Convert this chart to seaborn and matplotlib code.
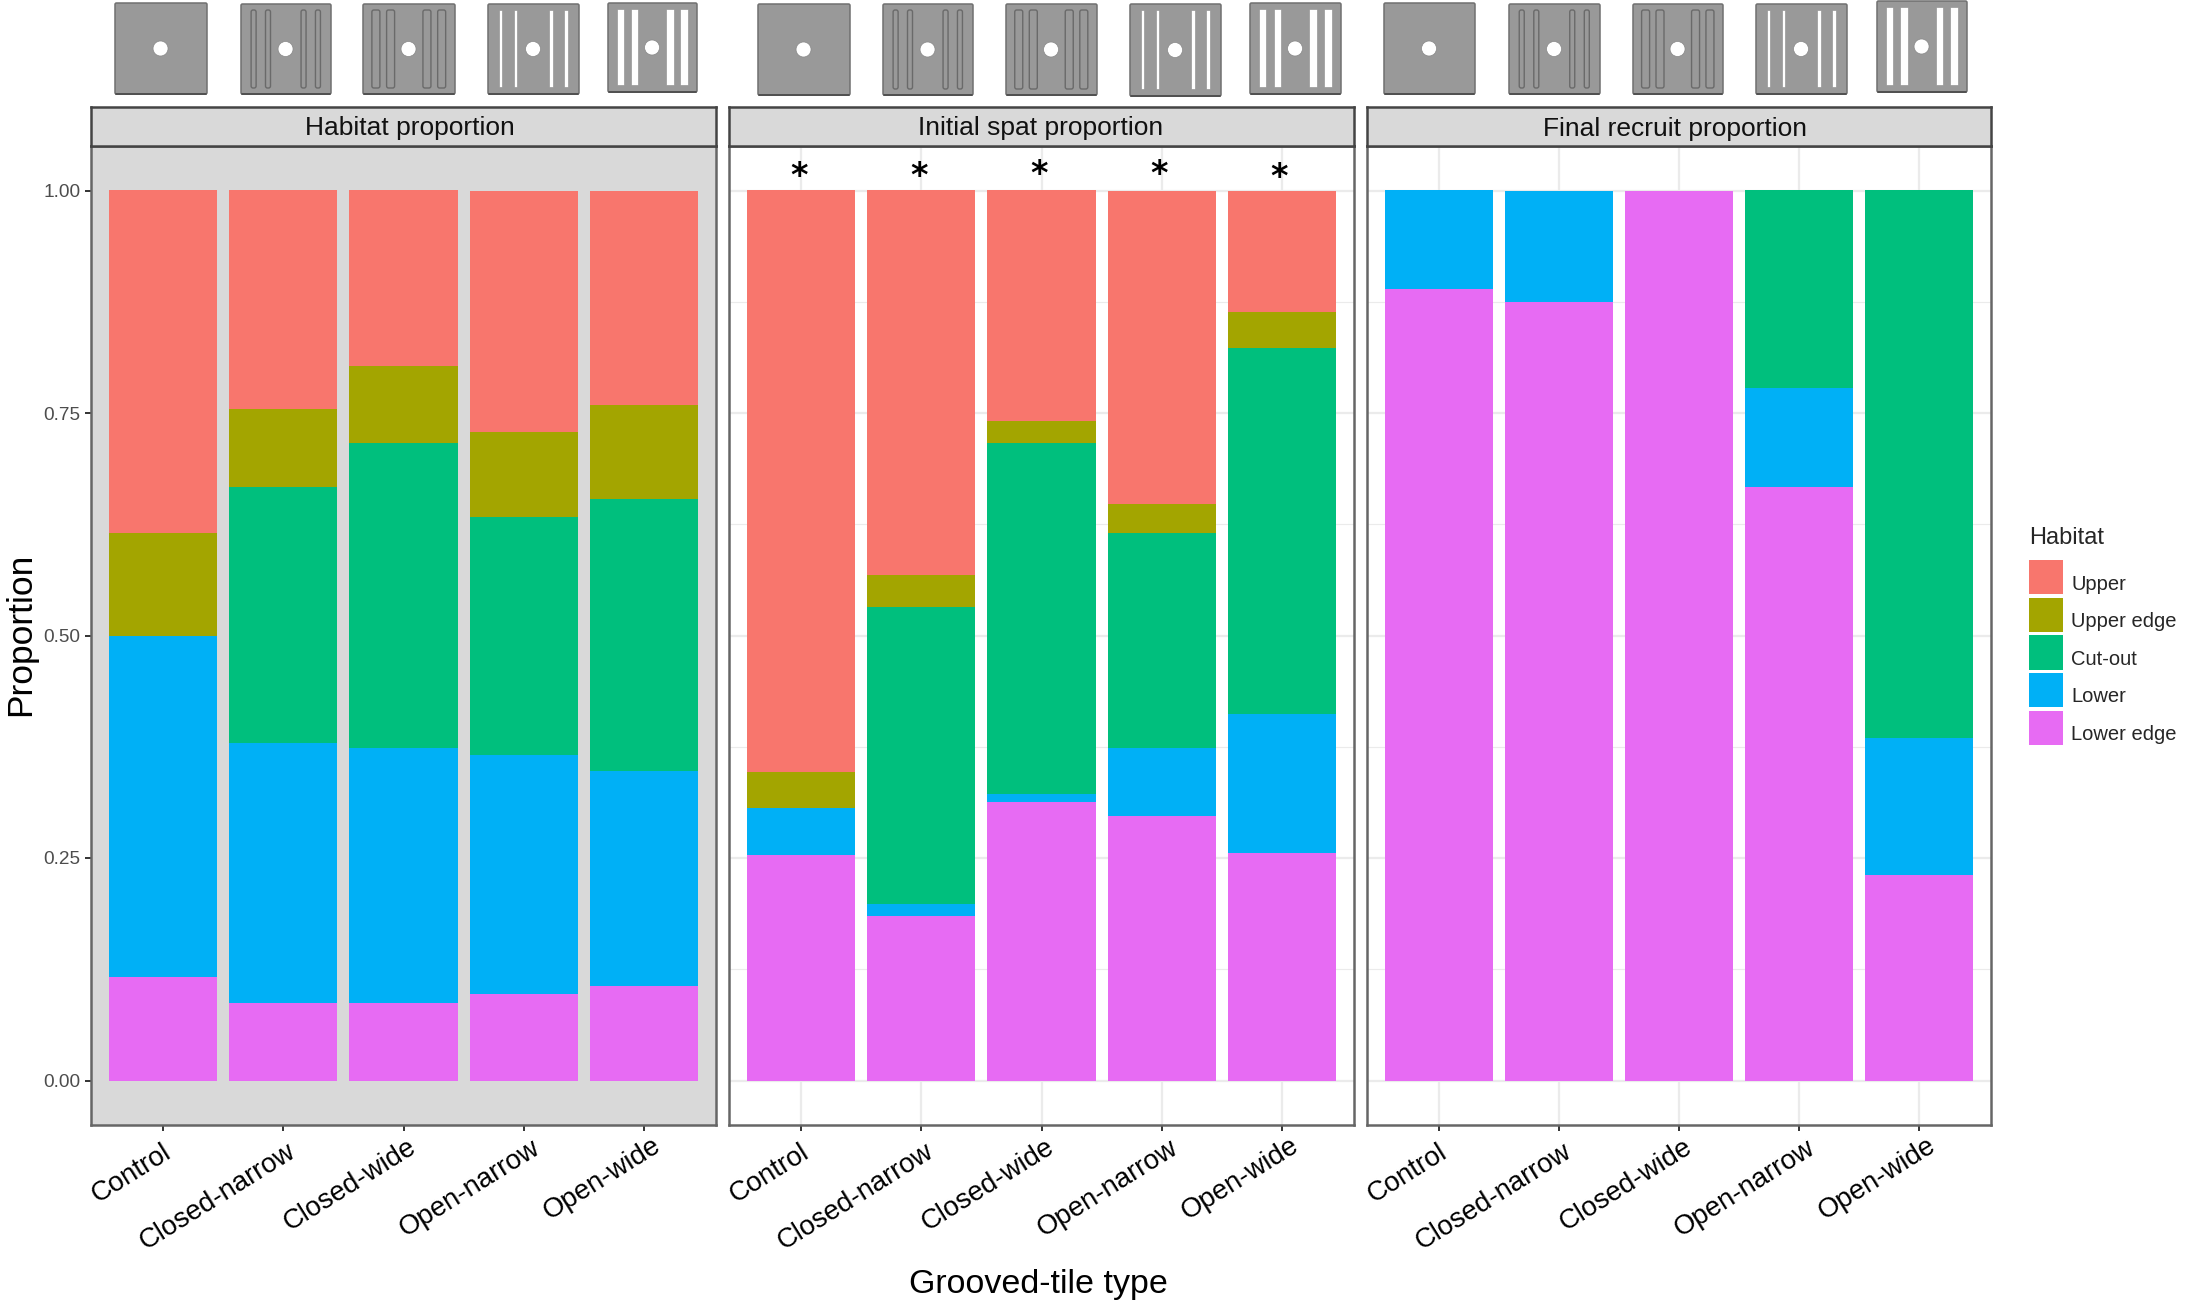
import numpy as np
import pandas as pd
import seaborn as sns
import matplotlib.pyplot as plt
from matplotlib.patches import Patch, Rectangle, FancyBboxPatch, Ellipse
from matplotlib.transforms import ScaledTranslation

tile_types = ['Control', 'Closed-narrow', 'Closed-wide', 'Open-narrow', 'Open-wide']
habitats = ['Upper', 'Upper edge', 'Cut-out', 'Lower', 'Lower edge']
colors = ['#F8766D', '#A3A500', '#00BF7D', '#00B0F6', '#E76BF3']
titles = ['Habitat proportion', 'Initial spat proportion', 'Final recruit proportion']

# proportions per tile type
habitat_upper = [0.385, 0.246, 0.197, 0.271, 0.241]
habitat_upper_edge = [0.115, 0.087, 0.087, 0.096, 0.106]
habitat_cutout = [0.0, 0.288, 0.342, 0.267, 0.305]
habitat_lower = [0.384, 0.2915, 0.2865, 0.269, 0.242]
habitat_lower_edge = [0.116, 0.0875, 0.0875, 0.097, 0.106]

spat_upper = [0.653, 0.432, 0.259, 0.352, 0.137]
spat_upper_edge = [0.041, 0.036, 0.025, 0.033, 0.040]
spat_cutout = [0.0, 0.334, 0.394, 0.241, 0.411]
spat_lower = [0.053, 0.013, 0.009, 0.077, 0.156]
spat_lower_edge = [0.253, 0.185, 0.313, 0.297, 0.256]

recruit_upper = [0.0, 0.0, 0.0, 0.0, 0.0]
recruit_upper_edge = [0.0, 0.0, 0.0, 0.0, 0.0]
recruit_cutout = [0.0, 0.0, 0.0, 0.222, 0.615]
recruit_lower = [0.111, 0.125, 0.0, 0.111, 0.154]
recruit_lower_edge = [0.889, 0.875, 1.0, 0.667, 0.231]

y_ticks = [0.0, 0.25, 0.5, 0.75, 1.0]
y_minor = [0.125, 0.375, 0.625, 0.875]

panels = [
    [habitat_upper, habitat_upper_edge, habitat_cutout, habitat_lower, habitat_lower_edge],
    [spat_upper, spat_upper_edge, spat_cutout, spat_lower, spat_lower_edge],
    [recruit_upper, recruit_upper_edge, recruit_cutout, recruit_lower, recruit_lower_edge],
]


def long_table(series):
    rows = []
    for name, vals in zip(habitats, series):
        for t, v in zip(tile_types, vals):
            rows.append({'tile': t, 'habitat': name, 'prop': v})
    return pd.DataFrame(rows)


W, H = 2200, 1313
sns.set_theme(style='white')
plt.rcParams['font.family'] = ['Liberation Sans', 'DejaVu Sans']
fig = plt.figure(figsize=(W / 100, H / 100), dpi=100)


def box(x0, x1, y0, y1):
    return [x0 / W, 1 - y1 / H, (x1 - x0) / W, (y1 - y0) / H]


panel_x = [(91, 716), (729, 1354), (1367, 1991)]
title_shift = [6, -1, -4]
title_y = [0.46, 0.46, 0.44]
label_dx = [-1, 3, 4, 7, 8]
label_dy = [1, 0, -4, -3, -6]

for i, (x0, x1) in enumerate(panel_x):
    ax = fig.add_axes(box(x0, x1, 146, 1125))
    sns.histplot(data=long_table(panels[i]), x='tile', hue='habitat', weights='prop',
                 hue_order=habitats, palette=colors, multiple='stack', discrete=True,
                 shrink=0.9, alpha=1, linewidth=0, legend=False, ax=ax)
    ax.set_xlim(-0.6, 4.6)
    ax.set_ylim(-0.05, 1.05)
    ax.set_xlabel('')
    ax.set_ylabel('')
    ax.set_xticks(range(5))
    ax.set_xticklabels(tile_types, rotation=32, ha='right', va='top',
                       rotation_mode='anchor', fontsize=19.8, color='black')
    ax.set_yticks(y_ticks)
    ax.set_yticks(y_minor, minor=True)
    ax.set_axisbelow(True)
    ax.tick_params(axis='x', length=4.5, width=1.4, color='#333333', pad=5, bottom=True)
    ax.tick_params(axis='y', which='major', length=4.5, width=1.4, color='#333333', pad=3,
                   labelsize=13.7, labelcolor='#4D4D4D', left=(i == 0), labelleft=(i == 0))
    ax.tick_params(axis='y', which='minor', length=0)
    ax.set_yticklabels(['0.00', '0.25', '0.50', '0.75', '1.00'] if i == 0 else [])
    # nudge the slanted labels, has to come after tick_params
    for lab, dx, dy in zip(ax.get_xticklabels(), label_dx, label_dy):
        lab.set_transform(lab.get_transform() + ScaledTranslation(dx / 100, -dy / 100, fig.dpi_scale_trans))
    if i == 0:
        ax.set_facecolor('#D9D9D9')
    else:
        ax.grid(True, which='major', color='#EBEBEB', linewidth=1.6)
        ax.grid(True, which='minor', axis='y', color='#EBEBEB', linewidth=0.8)
    for s in ax.spines.values():
        s.set_visible(True)
        s.set_color('#666666')
        s.set_linewidth(1.8)

    # facet strip on top of the panel
    strip = fig.add_axes(box(x0, x1, 107, 146))
    strip.set_facecolor('#D9D9D9')
    strip.set_xticks([])
    strip.set_yticks([])
    for s in strip.spines.values():
        s.set_visible(True)
        s.set_color('#444444')
        s.set_linewidth(1.8)
    strip.text(0.5 + title_shift[i] / (x1 - x0), title_y[i], titles[i], transform=strip.transAxes,
               ha='center', va='center', fontsize=19, color='#111111')

    if i == 1:
        star_y = [1.0156, 1.0156, 1.0178, 1.0178, 1.0145]
        for j, sy in enumerate(star_y):
            ax.text(j - 0.02, sy, '*', ha='center', va='center', fontsize=24, fontweight='bold',
                    family='DejaVu Sans', color='black')

fig.text(21 / W, 1 - 634 / H, 'Proportion', rotation=90, ha='center', va='center',
         fontsize=25.5, color='black')
fig.text(1038 / W, 1 - 1284 / H, 'Grooved-tile type', ha='center', va='center',
         fontsize=24.5, color='black')

handles = [Patch(facecolor=c, edgecolor='none', label=h) for c, h in zip(colors, habitats)]
leg = fig.legend(handles=handles, title='Habitat', loc='upper left',
                 bbox_to_anchor=(2029 / W, 1 - 527 / H), frameon=False, fontsize=14.5,
                 title_fontsize=17, alignment='left', handlelength=1.7, handleheight=2.25,
                 labelspacing=0.16, handletextpad=0.4, borderpad=0, borderaxespad=0)
leg._legend_box.sep = 8
for txt in leg.get_texts():
    txt.set_y(-6)

# tile pictures above the panels, in pixel coordinates
over = fig.add_axes([0, 0, 1, 1], zorder=5)
over.set_xlim(0, W)
over.set_ylim(H, 0)
over.axis('off')
over.patch.set_alpha(0)

tile_pos = [
    (115, 3, 92, 91), (241, 4, 90, 90), (363, 4, 92, 90), (488, 4, 91, 90), (608, 3, 89, 89),
    (758, 4, 92, 91), (883, 4, 90, 91), (1006, 4, 91, 91), (1130, 4, 91, 92), (1250, 3, 91, 91),
    (1384, 3, 91, 91), (1509, 4, 91, 90), (1633, 4, 90, 90), (1756, 4, 91, 90), (1877, 1, 90, 91),
]
slot_style = [None, (5, 'closed'), (8, 'closed'), (3.5, 'open'), (7.5, 'open')]
slot_off = [0.14, 0.30, 0.695, 0.855]

for k, (tx, ty, tw, th) in enumerate(tile_pos):
    over.add_patch(FancyBboxPatch((tx, ty), tw, th, boxstyle='round,pad=0,rounding_size=1.5',
                                  fc='#999999', ec='#707070', lw=1.1))
    over.plot([tx + 1, tx + tw - 1], [ty + th, ty + th], color='#505050', lw=1.4)
    style = slot_style[k % 5]
    if style is not None:
        sw, kind = style
        for off in slot_off:
            sx = tx + tw * off
            if kind == 'closed':
                over.add_patch(FancyBboxPatch((sx - sw / 2, ty + 6), sw, th - 12,
                                              boxstyle='round,pad=0,rounding_size=2',
                                              fc='#999999', ec='#6A6A6A', lw=1.0))
            else:
                over.add_patch(Rectangle((sx - sw / 2, ty + 6), sw, th - 13, fc='white',
                                         ec='#8A8A8A', lw=0.4))
    over.add_patch(Ellipse((tx + tw * 0.495, ty + th * 0.5), 15, 15, fc='white', ec='#888888', lw=0.5))
over.set_xlim(0, W)
over.set_ylim(H, 0)

fig.savefig('out.png', dpi=100, facecolor='white')
